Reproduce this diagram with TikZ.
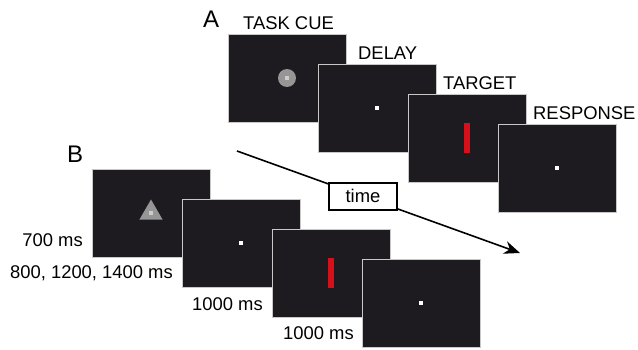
\documentclass[tikz,border=0pt]{standalone}
\usepackage{fontspec}
\setmainfont{Liberation Sans}
\usepackage{xcolor}
\definecolor{ScreenDark}{RGB}{29,27,31}
\definecolor{ScreenEdge}{RGB}{200,200,200}
\definecolor{CueGray}{RGB}{150,150,150}
\definecolor{CueLight}{RGB}{205,205,205}
\definecolor{TargetRed}{RGB}{214,16,26}
\usetikzlibrary{arrows.meta,shapes.geometric}

\begin{document}
\begin{tikzpicture}[
    x=1pt, y=-1pt,
    screen/.style={
        draw=ScreenEdge, line width=0.6pt, fill=ScreenDark,
        minimum width=118pt, minimum height=88pt, inner sep=0pt
    },
    fixdot/.style={
        fill=white, minimum size=4pt, inner sep=0pt
    },
    cuedot/.style={
        fill=CueLight, minimum size=4pt, inner sep=0pt
    },
    cuedisc/.style={
        circle, fill=CueGray, minimum size=18pt, inner sep=0pt
    },
    cuetri/.style={
        regular polygon, regular polygon sides=3,
        fill=CueGray, minimum size=27pt, inner sep=0pt
    },
    targetbar/.style={
        fill=TargetRed, minimum width=6pt, minimum height=30pt, inner sep=0pt
    },
    phase/.style={
        font=\fontsize{18.4}{20}\selectfont, inner sep=0pt, anchor=base west
    },
    duration/.style={
        font=\fontsize{18.4}{20}\selectfont, inner sep=0pt, anchor=base east
    },
    panel/.style={
        font=\fontsize{24}{26}\selectfont, inner sep=0pt, anchor=base west
    },
    timeline/.style={
        -{Stealth[length=16pt,width=13pt]}, line width=1.6pt
    },
    timebox/.style={
        draw, line width=1.6pt, fill=white, minimum width=68pt,
        minimum height=27pt, inner sep=0pt,
        font=\fontsize{18.4}{20}\selectfont
    }
]
\useasboundingbox (0,0) rectangle (638,350);

% ====== A : ECRANS ======
\node[panel] (labA) at (203,28) {A};

\node[screen] (a1) at (287,78)  {};
\node[cuedisc] (a1cue) at (a1.center) {};
\node[cuedot] at (a1cue.center) {};
\node[phase] at (243,30) {TASK CUE};

\node[screen] (a2) at (377,108) {};
\node[fixdot] at (a2.center) {};
\node[phase] at (358,60) {DELAY};

\node[screen] (a3) at (467,138) {};
\node[targetbar] at (a3.center) {};
\node[phase] at (443,90) {TARGET};

\node[screen] (a4) at (557,168) {};
\node[fixdot] at (a4.center) {};
\node[phase] at (533,120) {RESPONSE};

% ====== B : ECRANS ======
\node[panel] (labB) at (67,163) {B};

\node[screen] (b1) at (151,213) {};
\node[cuetri] (b1cue) at (b1.center) {};
\node[cuedot] at (b1cue.center) {};
\node[duration] at (83,247) {700 ms};

\node[screen] (b2) at (241,243) {};
\node[fixdot] at (b2.center) {};
\node[duration] at (173,279) {800, 1200, 1400 ms};

\node[screen] (b3) at (331,273) {};
\node[targetbar] at (b3.center) {};
\node[duration] at (263,310) {1000 ms};

\node[screen] (b4) at (421,303) {};
\node[fixdot] at (b4.center) {};
\node[duration] at (354,339) {1000 ms};

% ====== AXE DU TEMPS ======
\coordinate (tstart) at (237,151);
\coordinate (tend)   at (520,253);
\draw[timeline] (tstart) -- node[timebox, pos=0.445] (tbox) {time} (tend);

\end{tikzpicture}
\end{document}
